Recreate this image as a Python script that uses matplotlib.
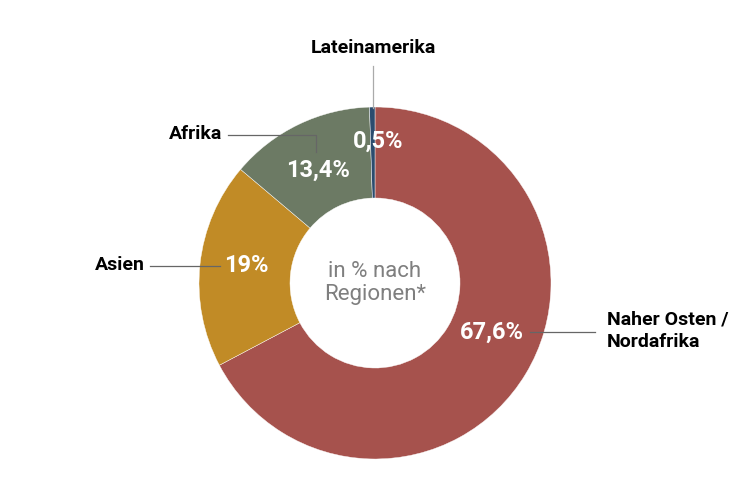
import matplotlib
matplotlib.use("Agg")
from matplotlib import pyplot as plt
from matplotlib import font_manager as fm

# data
regions = ["Naher Osten /\nNordafrika", "Asien", "Afrika", "Lateinamerika"]
shares = [67.6, 19.0, 13.4, 0.5]
share_labels = ["67,6%", "19%", "13,4%", "0,5%"]
colors = ["#A6524D", "#C18B26", "#6C7A64", "#2B4C6E"]

names = {f.name for f in fm.fontManager.ttflist}
family = ["Liberation Sans Narrow", "DejaVu Sans"] if "Liberation Sans Narrow" in names else ["Roboto", "DejaVu Sans"]
plt.rcParams["font.family"] = family

W, H = 753, 494
fig = plt.figure(figsize=(W / 100, H / 100), dpi=100)
ax = fig.add_axes([0, 0, 1, 1])
ax.set_xlim(0, W)
ax.set_ylim(0, H)
ax.set_aspect("equal")
ax.axis("off")

def Y(py):
    return H - py

cx, cy, r = 375, Y(283), 176
ax.pie(shares, colors=colors, startangle=90, counterclock=False,
       center=(cx, cy), radius=r,
       wedgeprops=dict(width=r - 85, linewidth=0.3, edgecolor="white"))
ax.set_xlim(0, W)
ax.set_ylim(0, H)

ax.text(cx, cy, "in % nach\nRegionen*", ha="center", va="center",
        fontsize=16, color="#7F7F7F", linespacing=1.15)

# percent labels inside the ring
pct_pos = [(492, 332), (246, 266), (318, 170), (378, 141)]
for (px, py), lab in zip(pct_pos, share_labels):
    ax.text(px, Y(py), lab, ha="center", va="center", fontsize=17,
            color="white", fontweight="bold")

# connector lines
line_kw = dict(color="#666666", linewidth=0.9)
ax.plot([373, 373], [Y(66), Y(108)], color="#aaaaaa", linewidth=0.9)
ax.plot([228, 316, 316], [Y(135), Y(135), Y(152)], **line_kw)
ax.plot([150, 220], [Y(266), Y(266)], **line_kw)
ax.plot([530, 595], [Y(332), Y(332)], **line_kw)

# region labels
lab_kw = dict(fontsize=14, color="black", fontweight="bold")
ax.text(607, Y(331), regions[0], ha="left", va="center", linespacing=1.35, **lab_kw)
ax.text(145, Y(265), regions[1], ha="right", va="center", **lab_kw)
ax.text(222, Y(134), regions[2], ha="right", va="center", **lab_kw)
ax.text(373, Y(48), regions[3], ha="center", va="center", **lab_kw)

fig.savefig("out.png", dpi=100)
